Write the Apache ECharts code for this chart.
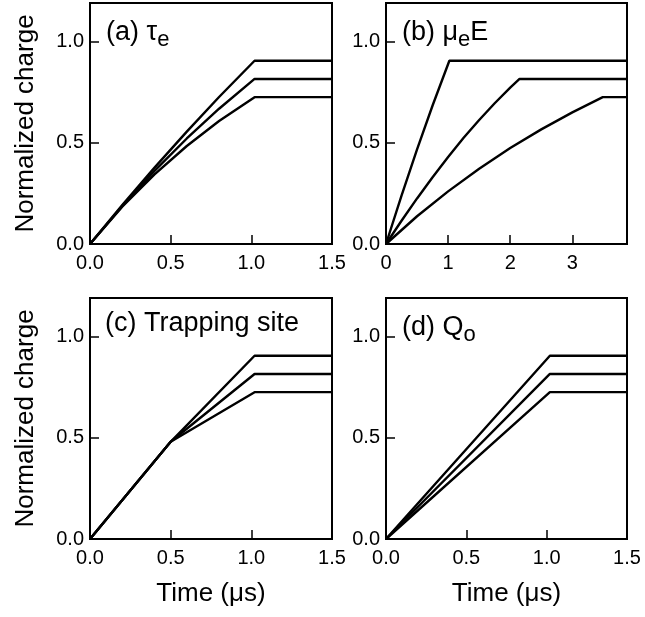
<!DOCTYPE html>
<html>
<head>
<meta charset="utf-8">
<script src="https://cdn.jsdelivr.net/npm/echarts@6/dist/echarts.min.js"></script>
<style>
html,body{margin:0;padding:0;background:#fff;}
#chart{width:645px;height:617px;}
</style>
</head>
<body>
<div id="chart"></div>
<script>
// ---- Data ----
// Panel (a): electron lifetime tau_e varies
const timeA = [0, 0.2, 0.4, 0.6, 0.8, 1.02, 1.5];
const chargeA1 = [0, 0.192, 0.377, 0.555, 0.726, 0.905, 0.905];
const chargeA2 = [0, 0.188, 0.361, 0.521, 0.668, 0.815, 0.815];
const chargeA3 = [0, 0.184, 0.344, 0.484, 0.607, 0.725, 0.725];

// Panel (b): mobility * field varies
const timeB1 = [0, 0.25, 0.5, 0.75, 1.02, 3.88];
const chargeB1 = [0, 0.239, 0.467, 0.684, 0.905, 0.905];
const timeB2 = [0, 0.25, 0.5, 0.75, 1.0, 1.25, 1.5, 1.75, 2.0, 2.15, 3.88];
const chargeB2 = [0, 0.115, 0.225, 0.33, 0.43, 0.525, 0.612, 0.695, 0.772, 0.815, 0.815];
const timeB3 = [0, 0.5, 1.0, 1.5, 2.0, 2.5, 3.0, 3.49, 3.88];
const chargeB3 = [0, 0.137, 0.260, 0.372, 0.474, 0.566, 0.650, 0.725, 0.725];

// Panel (c): trapping site
const timeC = [0, 0.5, 1.02, 1.5];
const chargeC1 = [0, 0.48, 0.905, 0.905];
const chargeC2 = [0, 0.48, 0.815, 0.815];
const chargeC3 = [0, 0.48, 0.725, 0.725];

// Panel (d): Q_o
const timeD = [0, 1.02, 1.5];
const chargeD1 = [0, 0.905, 0.905];
const chargeD2 = [0, 0.815, 0.815];
const chargeD3 = [0, 0.725, 0.725];

// Tick labels
const timeTicks = [0, 0.5, 1.0, 1.5];
const timeTicksB = [0, 1, 2, 3];
const chargeTicks = [0, 0.5, 1.0];

const panelTitles = ['(a) τ{sub|e}', '(b) μ{sub|e}E', '(c) Trapping site', '(d) Q{sub|o}'];
const yAxisTitle = 'Normalized charge';
const xAxisTitle = 'Time (μs)';

// ---- Build chart ----
const FONT = '"Liberation Sans", Arial, Helvetica, sans-serif';
const pairs = (xs, ys) => xs.map((x, i) => [x, ys[i]]);
const inList = (list) => (v) => list.some(t => Math.abs(t - v) < 1e-9);

const grids = [
  {left: 90, top: 3, width: 242, height: 241},
  {left: 386, top: 3, width: 241, height: 241},
  {left: 90, top: 298, width: 242, height: 241},
  {left: 386, top: 298, width: 241, height: 241}
].map(g => Object.assign({show: true, borderColor: '#000', borderWidth: 2, backgroundColor: 'transparent'}, g));

function xAxis(idx, max, interval, ticks, dec, named) {
  const ok = inList(ticks);
  return {
    type: 'value', gridIndex: idx, min: 0, max: max, interval: interval,
    axisLine: {show: true, onZero: false, lineStyle: {color: '#000', width: 2}},
    axisTick: {show: true, inside: true, length: 9, lineStyle: {color: '#000', width: 1.5}},
    splitLine: {show: false},
    axisLabel: {color: '#000', fontSize: 20, fontFamily: FONT, margin: 9,
      formatter: v => ok(v) ? v.toFixed(dec) : ''},
    name: named ? xAxisTitle : '', nameLocation: 'middle', nameGap: 42,
    nameTextStyle: {color: '#000', fontSize: 26, fontFamily: FONT}
  };
}
function yAxis(idx, named) {
  const ok = inList(chargeTicks);
  return {
    type: 'value', gridIndex: idx, min: 0, max: 1.19, interval: 0.5,
    axisLine: {show: true, onZero: false, lineStyle: {color: '#000', width: 2}},
    axisTick: {show: true, inside: true, length: 9, lineStyle: {color: '#000', width: 1.5}},
    splitLine: {show: false},
    axisLabel: {color: '#000', fontSize: 20, fontFamily: FONT, margin: 6,
      formatter: v => ok(v) ? v.toFixed(1) : ''},
    name: named ? yAxisTitle : '', nameLocation: 'middle', nameGap: 51, nameRotate: 90,
    nameTextStyle: {color: '#000', fontSize: 26, fontFamily: FONT}
  };
}

const lineSeries = (xi, xs, ys) => ({
  type: 'line', xAxisIndex: xi, yAxisIndex: xi, data: pairs(xs, ys),
  symbol: 'none', silent: true, clip: true,
  lineStyle: {color: '#000', width: 2.4}
});

const titlePos = [[106, 15], [402, 15], [105, 310], [402, 310]];
const titles = panelTitles.map((t, i) => ({
  text: t, left: titlePos[i][0], top: titlePos[i][1], padding: 0,
  textStyle: {color: '#000', fontSize: 27, fontWeight: 'normal', fontFamily: FONT,
    rich: {sub: {color: '#000', fontSize: 22, fontFamily: FONT, padding: [14, 0, 0, 0]}}}
}));

const option = {
  animation: false,
  backgroundColor: '#fff',
  title: titles,
  grid: grids,
  xAxis: [
    xAxis(0, 1.5, 0.5, timeTicks, 1, false),
    xAxis(1, 3.88, 1, timeTicksB, 0, false),
    xAxis(2, 1.5, 0.5, timeTicks, 1, true),
    xAxis(3, 1.5, 0.5, timeTicks, 1, true)
  ],
  yAxis: [yAxis(0, true), yAxis(1, false), yAxis(2, true), yAxis(3, false)],
  series: [
    lineSeries(0, timeA, chargeA1), lineSeries(0, timeA, chargeA2), lineSeries(0, timeA, chargeA3),
    lineSeries(1, timeB1, chargeB1), lineSeries(1, timeB2, chargeB2), lineSeries(1, timeB3, chargeB3),
    lineSeries(2, timeC, chargeC1), lineSeries(2, timeC, chargeC2), lineSeries(2, timeC, chargeC3),
    lineSeries(3, timeD, chargeD1), lineSeries(3, timeD, chargeD2), lineSeries(3, timeD, chargeD3)
  ]
};

const chart = echarts.init(document.getElementById('chart'), null, {renderer: 'canvas'});
chart.setOption(option);
</script>
</body>
</html>
